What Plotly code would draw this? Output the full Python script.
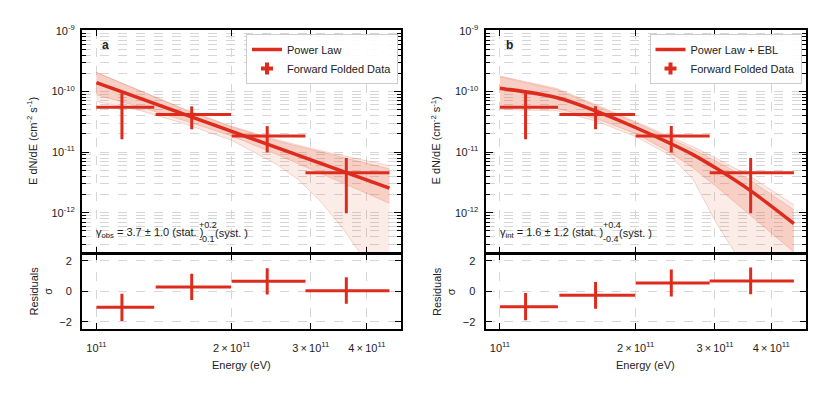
import plotly.graph_objects as go

# ---- forward folded data (same bins in both panels) ----
e_center = [1.14e11, 1.63e11, 2.40e11, 3.60e11]
e_low = [1.00e11, 1.355e11, 2.00e11, 2.92e11]
e_high = [1.345e11, 1.995e11, 2.92e11, 4.49e11]
flux = [5.5e-11, 4.17e-11, 1.85e-11, 4.56e-12]
flux_hi = [9.4e-11, 5.7e-11, 2.69e-11, 8.0e-12]
flux_lo = [1.63e-11, 2.38e-11, 9.9e-12, 9.8e-13]

# ---- residuals (sigma) ----
res_a = [-1.04, 0.28, 0.65, 0.04]
res_a_hi = [-0.17, 1.15, 1.51, 0.91]
res_a_lo = [-1.95, -0.58, -0.22, -0.82]
res_b = [-1.02, -0.26, 0.54, 0.67]
res_b_hi = [-0.11, 0.61, 1.43, 1.56]
res_b_lo = [-1.90, -1.15, -0.35, -0.19]

# ---- panel a: power law ----
pl_e = [1.00e11, 4.49e11]
pl_f = [1.40e-10, 2.55e-12]
band_a_e = [1.00e11, 1.26e11, 1.58e11, 2.00e11, 2.51e11, 2.82e11, 3.16e11, 3.55e11, 3.98e11, 4.49e11]
band_a_stat_hi = [2.07e-10, 1.00e-10, 4.93e-11, 2.61e-11, 1.55e-11, 1.24e-11, 1.00e-11, 8.1e-12, 6.5e-12, 5.3e-12]
band_a_stat_lo = [8.85e-11, 5.5e-11, 3.26e-11, 1.85e-11, 9.3e-12, 6.4e-12, 4.4e-12, 3.0e-12, 2.1e-12, 1.43e-12]
band_a_sys_hi = [2.07e-10, 1.00e-10, 5.05e-11, 2.67e-11, 1.62e-11, 1.30e-11, 1.05e-11, 8.7e-12, 7.2e-12, 5.97e-12]
band_a_sys_lo = [6.9e-11, 4.8e-11, 2.9e-11, 1.57e-11, 6.4e-12, 3.5e-12, 1.52e-12, 5.3e-13, 1.57e-13, 4.0e-14]

# ---- panel b: power law + EBL ----
ebl_e = [1.00e11, 1.34e11, 1.64e11, 2.01e11, 2.38e11, 2.68e11, 3.02e11, 3.57e11, 4.49e11]
ebl_f = [1.13e-10, 7.9e-11, 4.7e-11, 2.5e-11, 1.41e-11, 9.1e-12, 5.4e-12, 2.4e-12, 6.6e-13]
band_b_stat_hi = [1.75e-10, 1.07e-10, 5.75e-11, 3.02e-11, 1.70e-11, 1.12e-11, 7.1e-12, 3.55e-12, 1.12e-12]
band_b_stat_lo = [5.7e-11, 5.25e-11, 3.55e-11, 2.0e-11, 1.0e-11, 5.5e-12, 2.7e-12, 9.5e-13, 2.24e-13]
band_b_sys_hi = [1.8e-10, 1.12e-10, 6.0e-11, 3.16e-11, 1.82e-11, 1.23e-11, 7.9e-12, 4.1e-12, 1.35e-12]
band_b_sys_lo = [5.06e-11, 4.8e-11, 3.24e-11, 1.78e-11, 8.9e-12, 3.6e-12, 6.8e-13, 9.5e-14, 2.1e-15]

# ---- tick labels ----
x_tickvals = [1e11, 2e11, 3e11, 4e11]
x_ticktext = ["10<sup>11</sup>", "2\u2009×\u200910<sup>11</sup>",
              "3\u2009×\u200910<sup>11</sup>", "4\u2009×\u200910<sup>11</sup>"]
y_tickvals = [1e-12, 1e-11, 1e-10, 1e-9]
y_ticktext = ["10<sup>-12</sup>", "10<sup>-11</sup>", "10<sup>-10</sup>", "10<sup>-9</sup>"]
y_minor = [k * 10.0 ** p for p in range(-13, -8) for k in range(2, 10)]

RED = "#dd2c1e"
STAT_FILL = "rgba(230,105,75,0.22)"
SYS_FILL = "rgba(235,120,90,0.14)"
EDGE = "rgba(225,110,80,0.35)"
GRID = "#d6d6d6"
FONT = "Liberation Sans, Arial, sans-serif"

# the page body keeps its 8px default margin, so the figure is drawn 8px in
W, H, OFF = 822, 385, 8


def px_x(p):
    return (p - OFF) / W


def px_y(p):
    return 1 - (p - OFF) / H


def add_band(fig, e, hi, lo, fill, xa, ya):
    fig.add_trace(go.Scatter(x=e, y=hi, mode="lines", line=dict(color=EDGE, width=0.8),
                             xaxis=xa, yaxis=ya, showlegend=False, hoverinfo="skip"))
    fig.add_trace(go.Scatter(x=e, y=lo, mode="lines", line=dict(color=EDGE, width=0.8),
                             fill="tonexty", fillcolor=fill,
                             xaxis=xa, yaxis=ya, showlegend=False, hoverinfo="skip"))


def add_points(fig, y, y_hi, y_lo, xa, ya):
    fig.add_trace(go.Scatter(
        x=e_center, y=y, mode="markers", marker=dict(size=0, color=RED, opacity=0),
        error_x=dict(type="data", symmetric=False,
                     array=[h - c for h, c in zip(e_high, e_center)],
                     arrayminus=[c - l for c, l in zip(e_center, e_low)],
                     color=RED, thickness=3, width=0),
        error_y=dict(type="data", symmetric=False,
                     array=[h - c for h, c in zip(y_hi, y)],
                     arrayminus=[c - l for c, l in zip(y, y_lo)],
                     color=RED, thickness=3, width=0),
        xaxis=xa, yaxis=ya, showlegend=False, hoverinfo="skip"))


def panel(fig, model_e, model_f, name, bands, res, res_hi, res_lo, axes, legend):
    xa, ya, xr, yr = axes
    for e, hi, lo, fill in bands:
        add_band(fig, e, hi, lo, fill, xa, ya)
    fig.add_trace(go.Scatter(x=model_e, y=model_f, mode="lines", name=name,
                             line=dict(color=RED, width=3.5), line_shape="spline",
                             xaxis=xa, yaxis=ya, legend=legend))
    add_points(fig, flux, flux_hi, flux_lo, xa, ya)
    fig.add_trace(go.Scatter(x=[None], y=[None], mode="markers", name="Forward Folded Data",
                             marker=dict(symbol="cross", size=10, color=RED),
                             xaxis=xa, yaxis=ya, legend=legend))
    add_points(fig, res, res_hi, res_lo, xr, yr)


fig = go.Figure()
panel(fig, pl_e, pl_f, "Power Law",
      [(band_a_e, band_a_sys_hi, band_a_sys_lo, SYS_FILL),
       (band_a_e, band_a_stat_hi, band_a_stat_lo, STAT_FILL)],
      res_a, res_a_hi, res_a_lo, ("x", "y", "x2", "y2"), "legend")
panel(fig, ebl_e, ebl_f, "Power Law + EBL",
      [(ebl_e, band_b_sys_hi, band_b_sys_lo, SYS_FILL),
       (ebl_e, band_b_stat_hi, band_b_stat_lo, STAT_FILL)],
      res_b, res_b_hi, res_b_lo, ("x3", "y3", "x4", "y4"), "legend2")

frame = dict(showline=True, linecolor="black", linewidth=2, mirror="ticks",
             ticks="inside", tickcolor="black", tickwidth=1, zeroline=False,
             showgrid=True, gridcolor=GRID, griddash="dash", gridwidth=1,
             automargin=False,
             tickfont=dict(size=11, color="#222", family=FONT))

left = [px_x(82), px_x(401)]
right = [px_x(485.5), px_x(805.5)]
top = [px_y(253), px_y(30)]
bottom = [px_y(328.5), px_y(254)]
xrange = [10.968, 11.678]


def xaxis(dom, anchor, labels):
    d = dict(frame, type="log", domain=dom, anchor=anchor, range=xrange,
             tickmode="array", tickvals=x_tickvals, ticklen=6)
    if labels:
        d.update(ticktext=x_ticktext, ticklabelstandoff=8)
    else:
        d.update(showticklabels=False)
    return d


def yaxis_main(dom, anchor):
    return dict(frame, type="log", domain=dom, anchor=anchor, range=[-12.665, -8.984],
                tickmode="array", tickvals=y_tickvals, ticktext=y_ticktext, ticklen=7,
                ticklabelstandoff=3,
                minor=dict(tickmode="array", tickvals=y_minor, ticks="inside", ticklen=4,
                           tickcolor="black", showgrid=True, gridcolor=GRID,
                           griddash="dash", gridwidth=1))


def yaxis_res(dom, anchor):
    return dict(frame, domain=dom, anchor=anchor, range=[-2.44, 2.44],
                tickmode="array", tickvals=[-2, 0, 2], ticklen=6, ticklabelstandoff=6)


legend_style = dict(xanchor="right", yanchor="top", bgcolor="rgba(255,255,255,0.9)",
                    bordercolor="#cccccc", borderwidth=1, itemwidth=30,
                    traceorder="normal",
                    font=dict(size=11, color="#222", family=FONT), tracegroupgap=0)

fig.update_layout(
    template="none",
    width=W, height=H, autosize=False,
    margin=dict(l=0, r=0, t=0, b=0, pad=0),
    paper_bgcolor="white", plot_bgcolor="white",
    font=dict(family=FONT, size=11, color="#222"),
    xaxis=xaxis(left, "y", False), yaxis=yaxis_main(top, "x"),
    xaxis2=xaxis(left, "y2", True), yaxis2=yaxis_res(bottom, "x2"),
    xaxis3=xaxis(right, "y3", False), yaxis3=yaxis_main(top, "x3"),
    xaxis4=xaxis(right, "y4", True), yaxis4=yaxis_res(bottom, "x4"),
    legend=dict(legend_style, x=px_x(398), y=px_y(34)),
    legend2=dict(legend_style, x=px_x(801.5), y=px_y(34)),
)

ann = []


def label(text, x, y, size=11, **kw):
    ann.append(dict(text=text, x=px_x(x), y=px_y(y), xref="paper", yref="paper",
                    showarrow=False, font=dict(size=size, color="#222", family=FONT), **kw))


for dx, tag, gam, sup, sub in [(0, "a", "γ<sub>obs</sub> = 3.7 ± 1.0 (stat. )", "+0.2", "-0.1"),
                               (403.5, "b", "γ<sub>int</sub> = 1.6 ± 1.2 (stat. )", "+0.4", "-0.4")]:
    label("<b>%s</b>" % tag, 100 + dx, 45.5, size=12, xanchor="left", yanchor="middle")
    label(gam, 94 + dx, 233, xanchor="left", yanchor="middle")
    label(sup, 197 + dx, 225, size=9, xanchor="left", yanchor="middle")
    label(sub, 197 + dx, 238.5, size=9, xanchor="left", yanchor="middle")
    label("(syst. )", 213 + dx, 233, xanchor="left", yanchor="middle")
    label("E dN/dE (cm<sup>-2</sup> s<sup>-1</sup>)", 32 + dx, 141, textangle=-90,
          xanchor="center", yanchor="middle")
    label("Residuals<br>σ", 40 + dx, 291.5, textangle=-90, xanchor="center", yanchor="middle")
    label("Energy (eV)", 241.5 + dx, 365, xanchor="center", yanchor="middle")

fig.update_layout(annotations=ann)
fig.write_html("out.html")
